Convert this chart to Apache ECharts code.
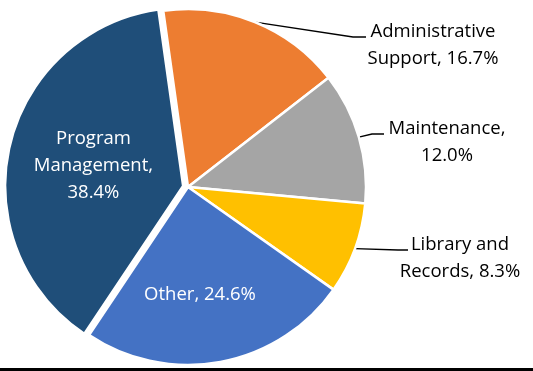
<!DOCTYPE html>
<html>
<head>
<meta charset="utf-8">
<script src="https://cdn.jsdelivr.net/npm/echarts@6/dist/echarts.min.js"></script>
<style>html,body{margin:0;padding:0;background:#fff;}#c{width:533px;height:371px;}</style>
</head>
<body>
<div id="c"></div>
<script>
var categories = ['Administrative\nSupport', 'Maintenance', 'Library and\nRecords', 'Other', 'Program\nManagement'];
var values = [16.7, 12.0, 8.3, 24.6, 38.4];
var colors = ['#ED7D31', '#A5A5A5', '#FFC000', '#4472C4', '#1F4E79'];
var breakAfterComma = [false, true, false, false, true];
var exploded = [false, false, false, false, true];

var labelSpots = [
  {x: 433, y: 45, line: [[353, 37], [366, 37]]},
  {x: 447, y: 142, line: [[372, 134], [384, 134]]},
  {x: 460, y: 258, line: [[398, 250], [408, 250]]},
  {x: 200, y: 295},
  {x: 88, y: 177}
];

var chart = echarts.init(document.getElementById('c'), null, {renderer: 'canvas'});
var data = categories.map(function (n, i) {
  var inside = (i >= 3);
  return {
    name: n,
    value: values[i],
    selected: exploded[i],
    itemStyle: {color: colors[i]},
    label: inside ? {position: 'inside', color: '#ffffff'} : {position: 'outside', color: '#000000'},
    labelLine: {show: !inside}
  };
});

chart.setOption({
  animation: false,
  backgroundColor: '#ffffff',
  graphic: [{type: 'rect', shape: {x: 0, y: 368, width: 533, height: 3}, style: {fill: '#000000'}}],
  series: [{
    type: 'pie',
    center: [188, 187],
    radius: 178,
    startAngle: 98,
    clockwise: true,
    selectedMode: 'single',
    selectedOffset: 5,
    avoidLabelOverlap: false,
    emphasis: {disabled: true},
    itemStyle: {borderColor: '#ffffff', borderWidth: 2.5},
    label: {
      fontFamily: 'Open Sans',
      fontSize: 18.5,
      lineHeight: 27,
      align: 'center',
      formatter: function (p) {
        var i = p.dataIndex;
        return p.name + (breakAfterComma[i] ? ',\n' : ', ') + values[i].toFixed(1) + '%';
      }
    },
    labelLine: {lineStyle: {color: '#000000', width: 1.3}, length: 10, length2: 10},
    labelLayout: function (params) {
      var s = labelSpots[params.dataIndex];
      var out = {x: s.x, y: s.y, align: 'center', verticalAlign: 'middle'};
      if (s.line && params.labelLinePoints) {
        out.labelLinePoints = [params.labelLinePoints[0], s.line[0], s.line[1]];
      }
      return out;
    },
    data: data
  }]
});
</script>
</body>
</html>
